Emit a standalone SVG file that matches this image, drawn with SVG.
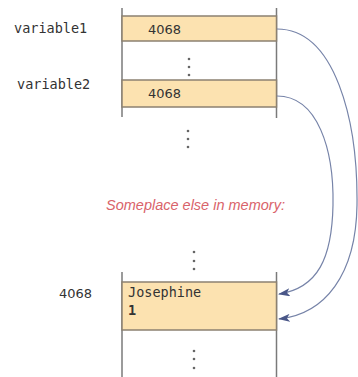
<svg xmlns="http://www.w3.org/2000/svg" width="358" height="377" viewBox="0 0 358 377">
  <style>
    .col { stroke: #7a7a7a; stroke-width: 1.5; fill: none; }
    .cell { fill: #fce2b0; stroke: #8c8171; stroke-width: 1.5; }
    .mono { font-family: "DejaVu Sans Mono", "Liberation Mono", monospace; font-size: 13.5px; fill: #333; }
    .num { font-family: "DejaVu Sans", "Liberation Sans", sans-serif; font-size: 13px; fill: #333; }
    .dot { fill: #666; }
    .link { fill: none; stroke: #7683a8; stroke-width: 1.2; }
    .note { font-family: "Liberation Sans", "DejaVu Sans", sans-serif; font-style: italic; font-size: 14.5px; fill: #d9636a; }
  </style>
  <defs>
    <marker id="head" viewBox="0 0 12 8" refX="11" refY="4" markerWidth="12" markerHeight="8" markerUnits="userSpaceOnUse" orient="auto">
      <path d="M0,0 L12,4 L0,8 L3,4 Z" fill="#4a5788"/>
    </marker>
  </defs>
  <rect width="358" height="377" fill="#ffffff"/>

  <!-- upper memory block -->
  <g id="memory-top">
    <line class="col" x1="122" y1="8" x2="122" y2="117"/>
    <line class="col" x1="276.5" y1="8" x2="276.5" y2="118"/>
  </g>
  <g id="variable1">
    <text class="mono" x="14" y="33">variable1</text>
    <rect class="cell" x="122" y="16" width="154.5" height="25"/>
    <text class="num" x="148" y="33.5">4068</text>
  </g>
  <g id="gap-top">
    <circle class="dot" cx="189" cy="59" r="1.3"/>
    <circle class="dot" cx="189" cy="67" r="1.3"/>
    <circle class="dot" cx="189" cy="75" r="1.3"/>
  </g>
  <g id="variable2">
    <text class="mono" x="17" y="89">variable2</text>
    <rect class="cell" x="122" y="80" width="154.5" height="27"/>
    <text class="num" x="148" y="98">4068</text>
  </g>
  <g id="gap-middle">
    <circle class="dot" cx="188" cy="131" r="1.3"/>
    <circle class="dot" cx="188" cy="139" r="1.3"/>
    <circle class="dot" cx="188" cy="147" r="1.3"/>
  </g>

  <text id="note" class="note" x="106" y="210">Someplace else in memory:</text>

  <!-- lower memory block -->
  <g id="gap-upper">
    <circle class="dot" cx="194" cy="252" r="1.3"/>
    <circle class="dot" cx="194" cy="261" r="1.3"/>
    <circle class="dot" cx="194" cy="269" r="1.3"/>
  </g>
  <g id="memory-bottom">
    <line class="col" x1="122" y1="272" x2="122" y2="377"/>
    <line class="col" x1="276.5" y1="272" x2="276.5" y2="377"/>
  </g>
  <g id="object-4068">
    <text class="num" x="59" y="298">4068</text>
    <rect class="cell" x="122" y="282" width="154.5" height="48"/>
    <text class="mono" x="128" y="297">Josephine</text>
    <text class="mono" x="128" y="315" font-weight="bold">1</text>
  </g>
  <g id="gap-lower">
    <circle class="dot" cx="194" cy="351" r="1.3"/>
    <circle class="dot" cx="194" cy="359" r="1.3"/>
    <circle class="dot" cx="194" cy="368" r="1.3"/>
  </g>

  <!-- references -->
  <g id="connectors">
    <path class="link" marker-end="url(#head)" d="M277,29 C335,29 358,120 357,205 C356,275 325,314 279,319"/>
    <path class="link" marker-end="url(#head)" d="M277,96 C318,96 334,150 333,205 C332,258 318,288 279,294"/>
  </g>
</svg>
